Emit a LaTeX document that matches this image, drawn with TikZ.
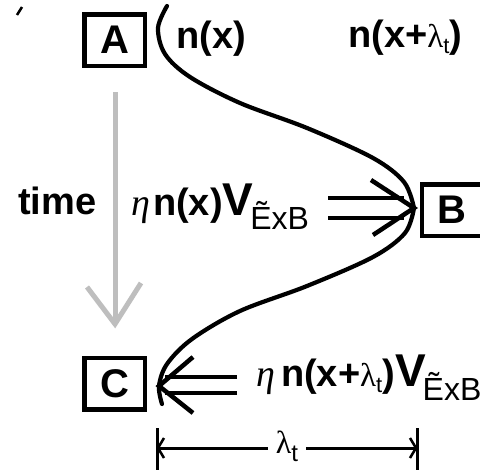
\documentclass[tikz,border=0pt]{standalone}
\usepackage{fontspec}
\setmainfont{Liberation Sans}
\newfontfamily\grk{Liberation Serif}
\usetikzlibrary{calc}
\definecolor{timegray}{RGB}{190,190,190}
\newcommand\subsc[1]{\hspace{-3pt}\raisebox{-14pt}{\fontsize{32}{32}\selectfont\mdseries #1}}
\newcommand\etasym{{\grk\mdseries\itshape\fontsize{38}{38}\selectfont η}}
\newcommand\lamt{{\grk\mdseries\fontsize{33}{33}\selectfont λ}\raisebox{-6pt}{\fontsize{22}{22}\selectfont\mdseries t}}
\begin{document}
\begin{tikzpicture}[x=1pt,y=-1pt,
  box/.style={draw, line width=4.5pt, minimum width=60.5pt, minimum height=51.5pt, inner sep=0pt,
    font=\fontsize{40}{40}\selectfont\bfseries},
  lbl/.style={anchor=base west, inner sep=0pt, font=\fontsize{38}{40}\selectfont\bfseries},
  heavy/.style={line width=4.5pt},
  curveline/.style={line width=4.2pt, line cap=round, line join=round},
  timearrow/.style={line width=5pt, draw=timegray},
  dimline/.style={line width=3pt}
]
\clip (0,0) rectangle (480,472);
\fill[white] (0,0) rectangle (480,472);

% boxes
\node[box] (A) at (114.5,40) {A};
\node[box, minimum width=66pt] (B) at (455,210) {\hspace*{-6pt}B};
\node[box] (C) at (114.5,383.5) {C};

% stray mark
\draw[line width=2.5pt] (17,15) -- (22,7);

% S-shaped curve
\coordinate (btip) at (414,208);
\coordinate (ctip) at (159,386);
\draw[curveline] plot[smooth, tension=0.55] coordinates {
  (167,6) (158,28) (165,54) (190,77) (240,103) (307,128) (373,158) (404,182) (btip)};
\draw[curveline] plot[smooth, tension=0.55] coordinates {
  (btip) (405,233) (373,257) (307,286) (240,311) (192,339) (167,364) (ctip) (162,404)};

% double arrow into B
\draw[heavy] ($(btip)+(-86,-10)$) -- ($(btip)+(-10,-10)$);
\draw[heavy] ($(btip)+(-86,10)$) -- ($(btip)+(-10,10)$);
\draw[heavy, line join=miter] ($(btip)+(-43,-28)$) -- (btip) -- ($(btip)+(-41,27)$);

% double arrow into C
\draw[heavy] ($(ctip)+(78,-9)$) -- ($(ctip)+(6,-9)$);
\draw[heavy] ($(ctip)+(78,7)$) -- ($(ctip)+(6,7)$);
\draw[heavy, line join=miter] ($(ctip)+(34,-29)$) -- (ctip) -- ($(ctip)+(34,27)$);

% time arrow
\coordinate (t0) at (115,92);
\coordinate (t1) at (115,324);
\draw[timearrow] (t0) -- (t1);
\draw[timearrow, line join=miter] ($(t1)+(-28,-37)$) -- (t1) -- ($(t1)+(26,-41)$);

% dimension
\coordinate (d0) at (157,448);
\coordinate (d1) at (417,448);
\draw[dimline] ($(d0)+(0,-20)$) -- ($(d0)+(0,22)$);
\draw[dimline] ($(d1)+(0,-20)$) -- ($(d1)+(0,22)$);
\node[inner sep=0pt] (lt) at (287,446) {{\grk\fontsize{32}{32}\selectfont λ}\raisebox{-8pt}{\fontsize{24}{24}\selectfont t}};
\draw[dimline] (d0) -- ($(lt.west)+(-8,2)$);
\draw[dimline] ($(lt.east)+(8,2)$) -- (d1);
\draw[line width=2.5pt] ($(d0)+(7,-10)$) -- ($(d0)+(1,0)$) -- ($(d0)+(7,10)$);
\draw[line width=2.5pt] ($(d1)+(-7,-10)$) -- ($(d1)+(-1,0)$) -- ($(d1)+(-7,10)$);

% labels
\node[lbl] (nx) at (176,48) {n(x)};
\node[lbl] (nxl) at (348,47) {n(x+\lamt)};
\node[lbl] (time) at (18,214) {time};
\node[lbl] (fluxB) at (131,215) {\etasym\hspace{3pt}n(x)\fontsize{46}{46}\selectfont V\subsc{Ẽ{}xB}};
\node[lbl] (fluxC) at (256,386) {\etasym\hspace{6pt}n(x+\lamt)\fontsize{46}{46}\selectfont V\subsc{Ẽ{}xB}};
\end{tikzpicture}
\end{document}
